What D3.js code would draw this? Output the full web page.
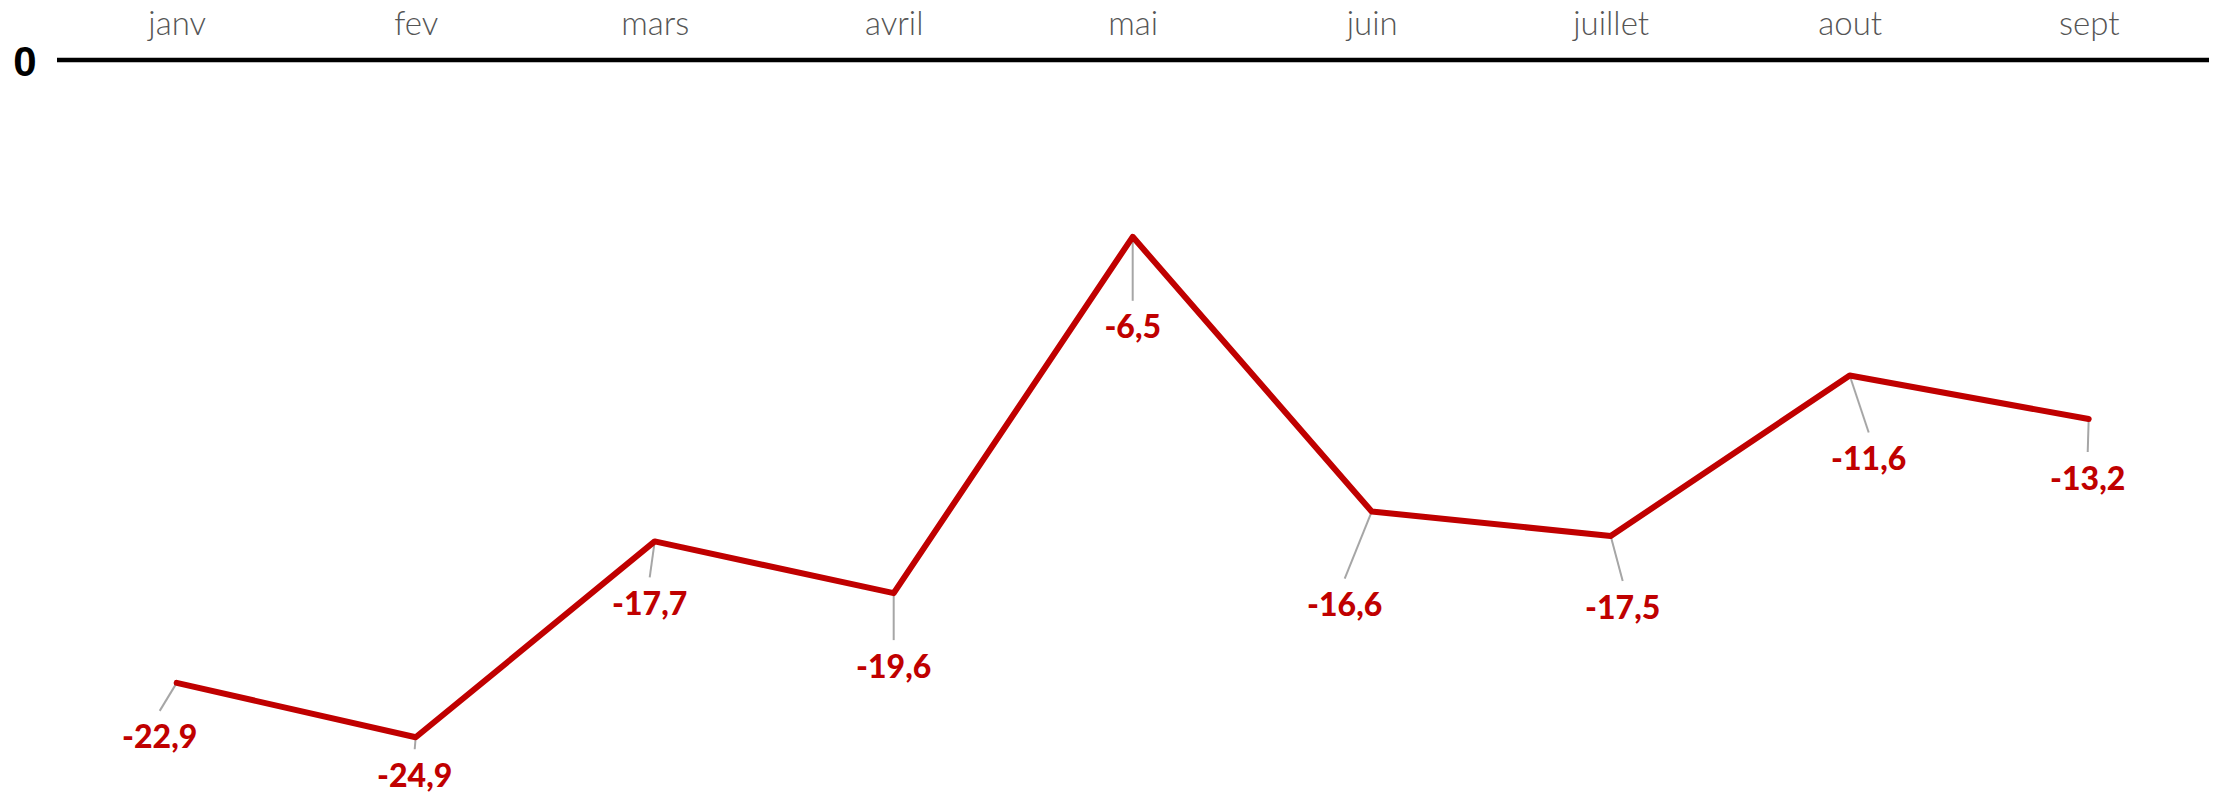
<!DOCTYPE html>
<html>
<head>
<meta charset="utf-8">
<script src="https://cdn.jsdelivr.net/npm/d3@7/dist/d3.min.js"></script>
<style>
  html, body { margin: 0; padding: 0; background: #fff; }
  svg { display: block; }
</style>
</head>
<body>
<svg id="chart" width="2214" height="793"></svg>
<script>
// ---- data ----
const months = ["janv", "fev", "mars", "avril", "mai", "juin", "juillet", "aout", "sept"];
const values = [-22.9, -24.9, -17.7, -19.6, -6.5, -16.6, -17.5, -11.6, -13.2];
const valueLabels = ["-22,9", "-24,9", "-17,7", "-19,6", "-6,5", "-16,6", "-17,5", "-11,6", "-13,2"];
const zeroLabel = "0";

// ---- layout (label offsets relative to each point, in px) ----
const labelDx = [-17, -1, -5, 0, 0, -27, 12, 19, -1];
const labelDy = [54, 38, 62, 73, 90, 93, 71, 83, 59];

const svg = d3.select("#chart");

const x = d3.scalePoint().domain(months).range([176.7, 2088.7]);
const y = d3.scaleLinear().domain([0, -25]).range([60, 740]);

// zero axis line
svg.append("line")
  .attr("x1", 57).attr("x2", 2209)
  .attr("y1", y(0)).attr("y2", y(0))
  .attr("stroke", "#000").attr("stroke-width", 4.5);

// zero label
svg.append("text")
  .attr("x", 25).attr("y", y(0) + 16)
  .attr("text-anchor", "middle")
  .attr("font-family", "'Liberation Sans', Arial, sans-serif")
  .attr("font-weight", "bold")
  .attr("font-size", 42)
  .attr("fill", "#000")
  .text(zeroLabel);

// month labels via axis
const axis = d3.axisTop(x).tickSize(0).tickPadding(0);
const gAxis = svg.append("g").attr("transform", "translate(0,35)").call(axis);
gAxis.select(".domain").remove();
gAxis.selectAll("text")
  .attr("font-family", "Lato, 'Open Sans', sans-serif")
  .attr("font-weight", 300)
  .attr("font-size", 33)
  .attr("fill", "#555")
  .attr("dy", 0);

const data = months.map((m, i) => ({ m, v: values[i], label: valueLabels[i], dx: labelDx[i], dy: labelDy[i] }));

// leader lines
svg.append("g").selectAll("line").data(data).join("line")
  .attr("x1", d => x(d.m)).attr("y1", d => y(d.v))
  .attr("x2", d => x(d.m) + d.dx).attr("y2", d => y(d.v) + d.dy - 26)
  .attr("stroke", "#A6A6A6").attr("stroke-width", 2);

// line
const line = d3.line().x(d => x(d.m)).y(d => y(d.v));
svg.append("path")
  .datum(data)
  .attr("d", line)
  .attr("fill", "none")
  .attr("stroke", "#C00000")
  .attr("stroke-width", 6)
  .attr("stroke-linejoin", "round")
  .attr("stroke-linecap", "round");

// value labels
svg.append("g").selectAll("text").data(data).join("text")
  .attr("x", d => x(d.m) + d.dx)
  .attr("y", d => y(d.v) + d.dy)
  .attr("dy", "0.36em")
  .attr("text-anchor", "middle")
  .attr("font-family", "Lato, 'Open Sans', sans-serif")
  .attr("font-weight", 900)
  .attr("font-size", 32)
  .attr("fill", "#C00000")
  .text(d => d.label);
</script>
</body>
</html>
